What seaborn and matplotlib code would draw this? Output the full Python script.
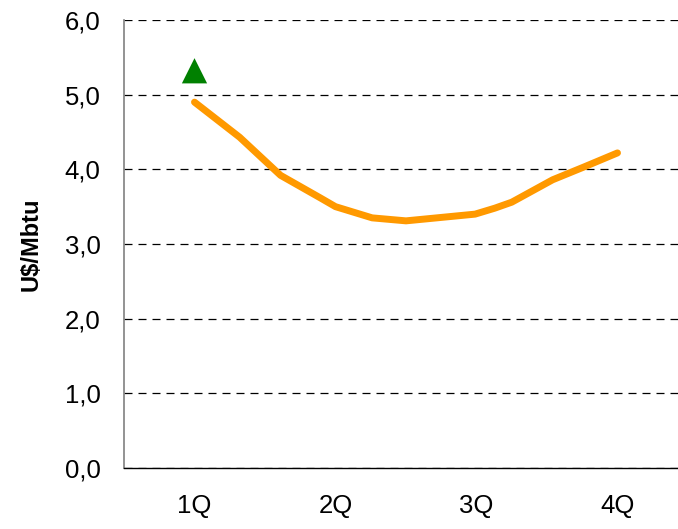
import matplotlib
matplotlib.use("Agg")
import matplotlib.pyplot as plt
import pandas as pd
import seaborn as sns

# Quarterly gas price curve (x in quarter units, 0 = 1Q)
quarters = ["1Q", "2Q", "3Q", "4Q"]
period = [0.0, 0.32, 0.61, 0.89, 1.0, 1.26, 1.5, 1.99, 2.13, 2.25, 2.54, 2.76, 3.0]
price = [4.90, 4.43, 3.92, 3.62, 3.50, 3.35, 3.31, 3.40, 3.48, 3.56, 3.86, 4.03, 4.22]

# single reference point
ref_period = [0.0]
ref_price = [5.32]

y_ticks = [0, 1, 2, 3, 4, 5, 6]
y_labels = ["0,0", "1,0", "2,0", "3,0", "4,0", "5,0", "6,0"]


def main():
    sns.set_style("white")
    plt.rcParams["font.family"] = ["Liberation Sans", "DejaVu Sans"]
    plt.rcParams["text.color"] = "black"
    plt.rcParams["axes.labelcolor"] = "black"
    plt.rcParams["xtick.color"] = "black"
    plt.rcParams["ytick.color"] = "black"

    df = pd.DataFrame({"period": period, "price": price})
    ref = pd.DataFrame({"period": ref_period, "price": ref_price})

    fig = plt.figure(figsize=(6.78, 5.29), dpi=100)
    ax = fig.add_axes([124 / 678, 61 / 529, 564 / 678, 448 / 529])

    sns.lineplot(data=df, x="period", y="price", ax=ax, color="#FF9900",
                 linewidth=5, solid_capstyle="round", solid_joinstyle="round",
                 zorder=3)
    sns.scatterplot(data=ref, x="period", y="price", ax=ax, marker="^",
                    s=330, color="#008000", edgecolor="none", zorder=4)

    ax.set_xlim(-0.5, 3.5)
    ax.set_ylim(0, 6)
    ax.set_yticks(y_ticks)
    ax.set_yticklabels(y_labels, fontsize=18.5)
    ax.yaxis.grid(True, color="black", linestyle=(0, (6.4, 4.8)), linewidth=0.9)
    ax.set_axisbelow(True)

    # quarter boundaries get the ticks, labels sit in the middle
    ax.set_xticks([-0.5, 0.5, 1.5, 2.5, 3.5])
    ax.set_xticklabels([])
    ax.set_xticks(range(len(quarters)), minor=True)
    ax.set_xticklabels(quarters, minor=True, fontsize=18.5)
    ax.tick_params(axis="x", which="major", direction="out", length=7,
                   width=1, color="#555555")
    ax.tick_params(axis="x", which="minor", length=0, pad=19)
    ax.tick_params(axis="y", direction="out", length=7, width=1,
                   color="black", pad=10)

    for side in ["top", "right"]:
        ax.spines[side].set_visible(False)
    ax.spines["left"].set_color("#808080")
    ax.spines["left"].set_linewidth(1.2)
    ax.spines["bottom"].set_color("black")
    ax.spines["bottom"].set_linewidth(1)

    ax.set_xlabel("")
    ax.set_ylabel("U$/Mbtu", fontsize=17, fontweight="bold")
    ax.yaxis.set_label_coords(-0.1436, 0.5)

    fig.savefig("out.png", dpi=100)


if __name__ == "__main__":
    main()
